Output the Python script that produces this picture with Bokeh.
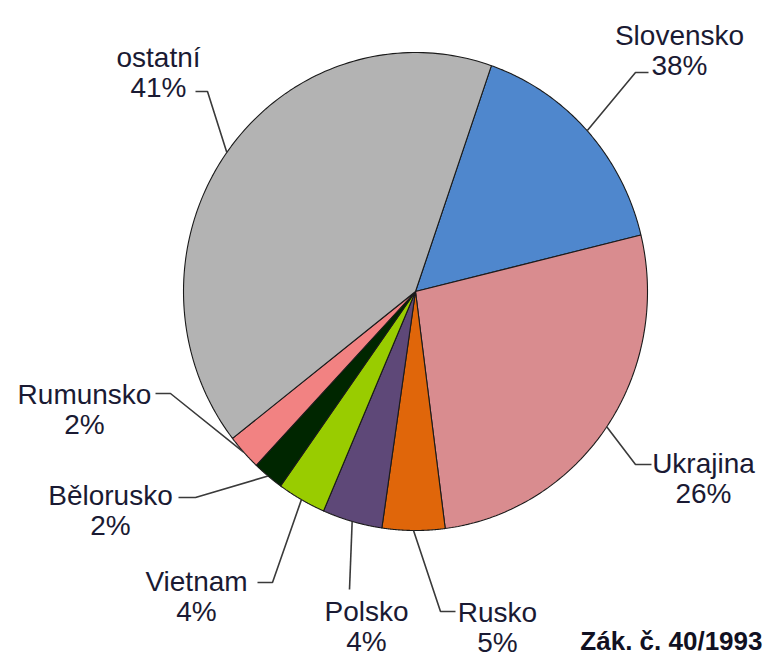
import numpy as np
from bokeh.plotting import figure
from bokeh.models import Range1d, ColumnDataSource
from bokeh.core.properties import value
from bokeh.embed import file_html
from bokeh.resources import INLINE

# ---- data (clockwise from the Slovensko slice) ----
categories = ["Slovensko", "Ukrajina", "Rusko", "Polsko", "Vietnam", "Bělorusko", "Rumunsko", "ostatní"]
shares = [15.9, 26.75, 4.36, 4.17, 3.39, 2.17, 2.42, 40.84]          # slice sizes
pct_labels = ["38%", "26%", "5%", "4%", "4%", "2%", "2%", "41%"]      # printed data labels
colors = ["#4F87CD", "#D98C8F", "#E0660A", "#5E4878", "#99CC00", "#002600", "#F28282", "#B3B3B3"]
source_note = "Zák. č. 40/1993"

# ---- layout (image pixel coordinates) ----
W, H = 765, 658
CX, CY, RX, RY = 415, 291, 232, 239
START_DEG = 19.1
# per label: elbow point, end of leader, text centre x, name baseline y
label_layout = {
    "Slovensko": ((635, 72), (648, 72), 679, 35),
    "Ukrajina": ((635, 464), (651, 464), 703, 463),
    "Rusko": ((440, 611), (455, 611), 497, 612),
    "Polsko": ((349, 589), (349, 589), 366, 611),
    "Vietnam": ((272, 582), (257, 582), 196, 581),
    "Bělorusko": ((195, 497), (178, 497), 110, 495),
    "Rumunsko": ((170, 393), (155, 393), 84, 394),
    "ostatní": ((207, 91), (195, 91), 158, 57),
}
LINE_GAP = 30
TEXT_COLOR = "#1a1a33"

p = figure(width=W, height=H, output_backend="svg", toolbar_location=None,
           x_range=Range1d(0, W), y_range=Range1d(H, 0),
           x_axis_type=None, y_axis_type=None, min_border=0)
p.outline_line_color = None
p.grid.visible = False
p.background_fill_color = "white"

total = float(sum(shares))
fr = np.array(shares) / total
ends = START_DEG + np.cumsum(fr) * 360.0
starts = ends - fr * 360.0

xs, ys, mids = [], [], []
for a0, a1 in zip(starts, ends):
    t = np.radians(np.linspace(a0, a1, 120))
    xs.append(np.concatenate([[CX], CX + RX * np.sin(t)]))
    ys.append(np.concatenate([[CY], CY - RY * np.cos(t)]))
    mids.append(np.radians((a0 + a1) / 2))

p.patches(xs="xs", ys="ys", fill_color="color", line_color="#1a1a1a", line_width=1.1,
          source=ColumnDataSource(dict(xs=xs, ys=ys, color=colors)))

lx, ly = [], []
tx, ty_name, ty_pct, names, pcts = [], [], [], [], []
for cat, m, pct in zip(categories, mids, pct_labels):
    (ex, ey), (nx, ny), cxt, bl = label_layout[cat]
    sx, sy = CX + RX * np.sin(m), CY - RY * np.cos(m)
    lx.append([sx, ex, nx])
    ly.append([sy, ey, ny])
    tx.append(cxt); ty_name.append(bl); ty_pct.append(bl + LINE_GAP)
    names.append(cat); pcts.append(pct)

p.multi_line(xs=lx, ys=ly, line_color="#3a3a3a", line_width=1.6)

p.text(x=tx, y=ty_name, text=names, text_font=value("Liberation Sans"), text_font_size="28px",
       text_color=TEXT_COLOR, text_align="center", text_baseline="alphabetic")
p.text(x=tx, y=ty_pct, text=pcts, text_font=value("Liberation Sans"), text_font_size="28px",
       text_color=TEXT_COLOR, text_align="center", text_baseline="alphabetic")

p.text(x=[762], y=[640], text=[source_note], text_font=value("Liberation Sans"),
       text_font_size="26px", text_font_style="bold", text_color="#111122",
       text_align="right", text_baseline="alphabetic")

open("out.html", "w").write(file_html(p, INLINE))
